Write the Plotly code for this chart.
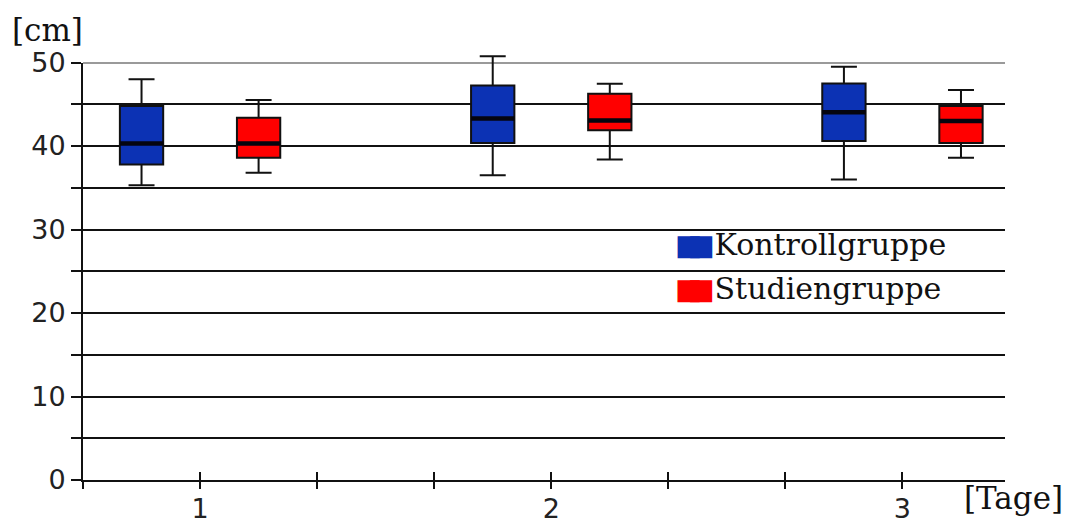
import plotly.graph_objects as go

days = [1, 2, 3]
group_names = ["Kontrollgruppe", "Studiengruppe"]
group_colors = ["#0c32b4", "#ff0000"]

kontroll_low = [35.3, 36.5, 36.0]
kontroll_q1 = [37.8, 40.35, 40.6]
kontroll_med = [40.3, 43.3, 44.05]
kontroll_q3 = [44.8, 47.25, 47.5]
kontroll_high = [48.0, 50.75, 49.5]

studien_low = [36.8, 38.4, 38.6]
studien_q1 = [38.6, 41.9, 40.35]
studien_med = [40.3, 43.05, 43.0]
studien_q3 = [43.4, 46.25, 44.8]
studien_high = [45.5, 47.45, 46.7]

y_ticks = list(range(0, 55, 5))
y_ticktext = [str(v) if v % 10 == 0 else "" for v in y_ticks]
x_ticks = []
x_ticktext = []
for d in days:
    for k, off in enumerate([-1 / 3, 0, 1 / 3]):
        x_ticks.append(d + off)
        x_ticktext.append(str(d) if k == 1 else "")

stats = [
    (kontroll_low, kontroll_q1, kontroll_med, kontroll_q3, kontroll_high),
    (studien_low, studien_q1, studien_med, studien_q3, studien_high),
]

y_top = 51.5          # headroom so the tallest whisker is not clipped
y_max = 50
dom = y_max / y_top

fig = go.Figure()
for i, (name, color, (lo, q1, med, q3, hi)) in enumerate(zip(group_names, group_colors, stats)):
    fig.add_trace(go.Box(
        x=days, q1=q1, median=med, q3=q3, lowerfence=lo, upperfence=hi,
        name=name, fillcolor=color, line=dict(color="#111111", width=2),
        whiskerwidth=0.6, showlegend=False, hoverinfo="skip",
        offsetgroup=f"g{i}", yaxis="y2",
    ))
for i, (name, (lo, q1, med, q3, hi)) in enumerate(zip(group_names, stats)):
    # thick median bar drawn on top of each box
    fig.add_trace(go.Box(
        x=days, q1=med, median=med, q3=med, lowerfence=med, upperfence=med,
        name=name + " median", fillcolor="rgba(0,0,0,0)",
        line=dict(color="#05050f", width=4.5),
        whiskerwidth=0, showlegend=False, hoverinfo="skip",
        offsetgroup=f"g{i}", yaxis="y2",
    ))

for i, (name, color) in enumerate(zip(group_names, group_colors)):
    sq = (f'<span style="color:{color};font-family:DejaVu Sans;font-size:29px;letter-spacing:-15px">■</span>'
          f'<span style="color:{color};font-family:DejaVu Sans;font-size:29px">■</span>')
    fig.add_trace(go.Scatter(
        x=[None], y=[None], mode="lines", line=dict(width=0, color=color),
        legendgroup=f"l{i}", showlegend=True, name=sq + name,
    ))

x_range = [2 / 3, 3.292]
tick_style = dict(range=x_range, tickmode="array", tickvals=x_ticks,
                  ticktext=[""] * len(x_ticks), ticklen=8, tickwidth=2,
                  tickcolor="#111111", showline=False, showgrid=False,
                  zeroline=False, automargin=False, anchor="y",
                  overlaying="x", side="bottom")
fig.update_layout(
    width=1068, height=524,
    margin=dict(l=83, r=63, t=49.5, b=44),
    paper_bgcolor="white", plot_bgcolor="rgba(0,0,0,0)",
    boxmode="group", boxgap=1 / 3, boxgroupgap=0.63,
    showlegend=True,
    legend=dict(
        x=0.5984, y=0.61, xanchor="left", yanchor="top",
        bgcolor="rgba(0,0,0,0)", itemwidth=30, tracegroupgap=2,
        font=dict(family="DejaVu Serif", size=30, color="#111111"),
        itemclick=False, itemdoubleclick=False,
    ),
    xaxis=dict(
        range=x_range, tickmode="array", tickvals=x_ticks, ticktext=x_ticktext,
        ticks="", ticklabelstandoff=4,
        showline=True, linecolor="#111111", linewidth=2, showgrid=False,
        zeroline=False, automargin=False, anchor="y",
        tickfont=dict(family="DejaVu Sans", size=27, color="#222222"),
    ),
    xaxis2=dict(ticks="inside", **tick_style),
    xaxis3=dict(ticks="outside", **tick_style),
    yaxis=dict(
        domain=[0, dom], range=[0, y_max], anchor="x",
        tickmode="array", tickvals=y_ticks, ticktext=y_ticktext,
        ticks="outside", ticklen=10, tickwidth=2, tickcolor="#111111",
        showline=True, linecolor="#111111", linewidth=2,
        showgrid=False, zeroline=False, automargin=False,
        tickfont=dict(family="DejaVu Sans", size=27, color="#222222"),
    ),
    yaxis2=dict(
        domain=[0, 1], range=[0, y_top], anchor="x",
        tickmode="array", tickvals=y_ticks[:-1], showticklabels=False, ticks="",
        showline=False, showgrid=True, gridcolor="#111111", gridwidth=1.6,
        zeroline=False, automargin=False,
        minor=dict(tickmode="array", tickvals=[y_max], showgrid=True,
                   gridcolor="#9a9a9a", gridwidth=1.6, ticks=""),
    ),
    annotations=[
        dict(text="[cm]", xref="paper", yref="paper", x=-0.0385, y=1.0476,
             showarrow=False, xanchor="center", yanchor="middle",
             font=dict(family="DejaVu Serif", size=31, color="#111111")),
        dict(text="[Tage]", xref="paper", yref="paper", x=1.0087, y=-0.0418,
             showarrow=False, xanchor="center", yanchor="middle",
             font=dict(family="DejaVu Serif", size=31, color="#111111")),
    ],
)
fig.add_trace(go.Scatter(x=[None], y=[None], xaxis="x2", yaxis="y",
                         showlegend=False, hoverinfo="skip"))
fig.add_trace(go.Scatter(x=[None], y=[None], xaxis="x3", yaxis="y",
                         showlegend=False, hoverinfo="skip"))

fig.write_html("out.html")
